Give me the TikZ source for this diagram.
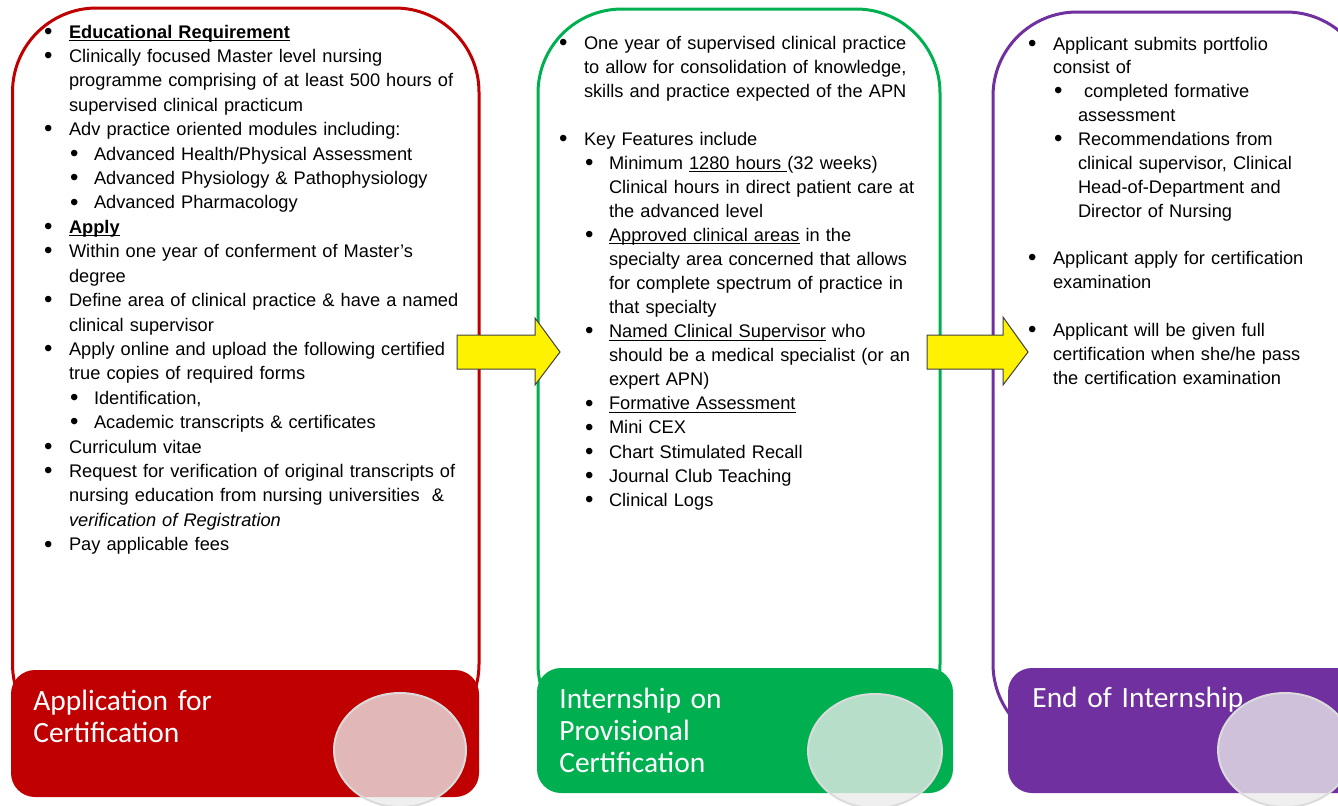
\documentclass[tikz,border=0pt]{standalone}
\usepackage{fontspec}
\setmainfont{Liberation Sans}
\newfontfamily\calib{Carlito}
\usepackage{xcolor}
\definecolor{appred}{RGB}{192,0,0}
\definecolor{intgreen}{RGB}{0,176,80}
\definecolor{endpurple}{RGB}{112,48,160}
\newcommand\bigdot{\raisebox{-0.6pt}{\fontsize{12}{12}\selectfont\textbullet}}
\newcommand\itemA[1]{\hangindent=11.9pt\hangafter=1\relax\makebox[11.9pt][l]{\hspace*{-0.5pt}\bigdot}#1\par}
\newcommand\itemB[1]{\hangindent=24.4pt\hangafter=1\relax\leavevmode\hspace*{12.5pt}\makebox[11.9pt][l]{\bigdot}#1\par}
\newcommand\nl{\hfil\break}
\newcommand\gap{\mbox{}\par}
\newcommand\undl[1]{\leavevmode\setbox0=\hbox{#1}\rlap{\rule[-1.5pt]{\wd0}{0.6pt}}\box0\relax}

\begin{document}
\begin{tikzpicture}[x=0.5pt,y=-0.5pt,
  panel/.style={line width=1.5pt, rounded corners=42pt},
  tab/.style={rounded corners=12pt},
  disc/.style={fill=white!92!black, fill opacity=0.78, draw=white!86!black, line width=1pt},
  blockarrow/.style={fill=yellow, draw=black!75, line width=0.5pt, line join=miter},
  body/.style={anchor=base west, inner sep=0pt, text width=240pt, font=\fontsize{9.12}{#1}\selectfont},
  ttl/.style={anchor=base west, inner sep=0pt, text width=200pt, align=left, text=white, font=\calib\fontsize{14.7}{16}\selectfont}]
\useasboundingbox (0,0) rectangle (1338,805);
\clip (0,0) rectangle (1338,805);

\draw[panel, draw=appred] (12.5,8) rectangle (479,748); %red frame
\fill[tab, appred] (11,670) rectangle (479,797);
\draw[disc] (400,750) ellipse (33pt and 28.5pt);

\draw[panel, draw=intgreen] (538,9) rectangle (940,748); %green frame
\fill[tab, intgreen] (537,668) rectangle (953,793);
\draw[disc] (875,751) ellipse (33.5pt and 28.5pt);

\draw[panel, draw=endpurple] (993,12) rectangle (1370,748); %purple frame, runs off the page
\fill[tab, endpurple] (1008,668) rectangle (1420,793);
\draw[disc] (1285,750) ellipse (33.5pt and 28.5pt);

\draw[blockarrow] (457,335) -- (535,335) -- (535,318) -- (560,352) -- (535,385) -- (535,369) -- (457,369) -- cycle; %arrow 1
\draw[blockarrow] (927,335) -- (1003,335) -- (1003,317) -- (1028,352) -- (1003,385) -- (1003,369) -- (927,369) -- cycle; %arrow 2

\node[body=12.21pt] (applist) at (44.8,38) {%
\itemA{\textbf{\undl{Educational Requirement}}}
\itemA{Clinically focused Master level nursing\nl programme comprising of at least 500 hours of\nl supervised clinical practicum}
\itemA{Adv practice oriented modules including:}
\itemB{Advanced Health/Physical Assessment}
\itemB{Advanced Physiology \& Pathophysiology}
\itemB{Advanced Pharmacology}
\itemA{\textbf{\undl{Apply}}}
\itemA{Within one year of conferment of Master’s\nl degree}
\itemA{Define area of clinical practice \& have a named\nl clinical supervisor}
\itemA{Apply online and upload the following certified\nl true copies of required forms}
\itemB{Identification,}
\itemB{Academic transcripts \& certificates}
\itemA{Curriculum vitae}
\itemA{Request for verification of original transcripts of\nl nursing education from nursing universities \ \&\nl \textit{verification of Registration}}
\itemA{Pay applicable fees}};

\node[body=12.03pt] (intlist) at (559.8,49) {%
\itemA{One year of supervised clinical practice\nl to allow for consolidation of knowledge,\nl skills and practice expected of the APN}
\gap
\itemA{Key Features include}
\itemB{Minimum \undl{1280 hours }(32 weeks)\nl Clinical hours in direct patient care at\nl the advanced level}
\itemB{\undl{Approved clinical areas} in the\nl specialty area concerned that allows\nl for complete spectrum of practice in\nl that specialty}
\itemB{\undl{Named Clinical Supervisor} who\nl should be a medical specialist (or an\nl expert APN)}
\itemB{\undl{Formative Assessment}}
\itemB{Mini CEX}
\itemB{Chart Stimulated Recall}
\itemB{Journal Club Teaching}
\itemB{Clinical Logs}};

\node[body=11.93pt] (endlist) at (1028.8,50) {%
\itemA{Applicant submits portfolio\nl consist of}
\itemB{\ completed formative\nl assessment}
\itemB{Recommendations from\nl clinical supervisor, Clinical\nl Head-of-Department and\nl Director of Nursing}
\gap
\itemA{Applicant apply for certification\nl examination}
\gap
\itemA{Applicant will be given full\nl certification when she/he pass\nl the certification examination}};

\node[ttl] (apptitle) at (33,710) {Application for\\Certification};
\node[ttl] (inttitle) at (559,708) {Internship on\\Provisional\\Certification};
\node[ttl] (endtitle) at (1032,707) {End of Internship};
\end{tikzpicture}
\end{document}
